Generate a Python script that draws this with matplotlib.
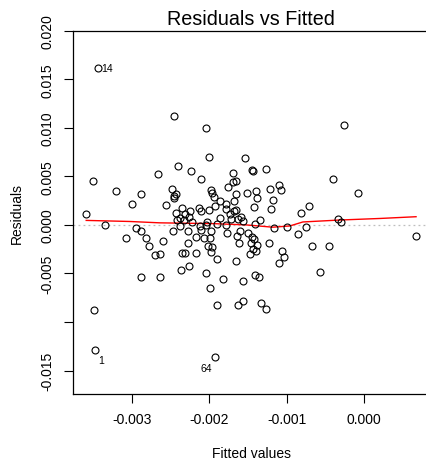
import matplotlib
matplotlib.use("Agg")
import matplotlib.pyplot as plt
import numpy as np

plt.rcParams['font.family'] = ['Liberation Sans', 'DejaVu Sans']

# fitted values and residuals, in units of 1e-3
fitted_e3 = [
    -3.447, -3.512, -3.594, -3.351, -3.217, -3.000, -2.883, -3.083, -3.499, -3.481,
    -2.957, -2.883, -2.818, -2.784, -2.603, -2.706, -2.645, -2.883, -2.636, -2.671,
    -2.568, -2.464, -2.403, -2.239, -2.109, -2.039, -2.009, -2.490, -2.429, -2.464,
    -2.455, -2.351, -2.429, -2.247, -2.317, -2.265, -2.386, -2.421, -2.334, -2.135,
    -2.113, -2.009, -1.931, -1.979, -1.961, -1.944, -2.031, -1.866, -1.862, -1.779,
    -1.788, -1.736, -1.684, -1.714, -1.684, -1.758, -1.694, -1.694, -2.473, -2.377,
    -2.273, -2.273, -2.169, -2.126, -2.104, -2.048, -1.974, -2.065, -1.996, -2.360,
    -2.312, -2.169, -2.022, -1.961, -1.974, -1.775, -1.905, -2.369, -2.269, -2.039,
    -1.823, -1.992, -1.905, -1.922, -1.542, -1.447, -1.440, -1.262, -1.652, -1.652,
    -1.512, -1.395, -1.377, -1.213, -1.096, -1.074, -1.174, -1.195, -1.425, -1.649,
    -0.710, -0.814, -0.403, -0.252, -0.070, -1.632, -1.584, -1.564, -1.343, -0.327,
    -0.295, -1.412, -1.161, -0.996, -0.745, 0.679, -1.606, -1.636, -1.499, -1.447,
    -1.421, -1.455, -1.382, -1.434, -1.390, -1.477, -1.610, -1.230, -0.847, -1.065,
    -1.029, -1.094, -0.665, -0.448, -0.565, -1.649, -1.412, -1.357, -1.561, -1.629,
    -1.561, -1.325, -1.262, -1.899, -2.230, -1.788]

resid_e3 = [
    16.19, 4.53, 1.10, 0.02, 3.44, 2.13, 3.19, -1.40, -8.81, -12.86,
    -0.34, -0.62, -1.40, -2.22, -1.68, -3.15, -3.01, -5.35, -5.35, 5.29,
    2.00, 11.21, 6.09, 5.56, 4.75, 10.02, 7.00, 3.74, 3.23, 3.00,
    2.72, 1.72, 1.20, 1.41, 1.10, 0.76, 0.66, 0.51, 0.51, 1.69,
    1.44, 1.51, 1.95, 3.57, 3.29, 2.82, 0.31, 0.66, 2.41, 2.13,
    1.62, 1.10, 1.44, 0.59, 2.47, 3.85, 4.42, 5.32, -0.62, -0.10,
    -0.62, -1.91, -1.30, -0.10, -0.55, 0.02, -0.68, -1.40, -1.40, -2.88,
    -2.88, -2.88, -2.19, -2.33, -2.78, -0.88, -3.50, -4.66, -4.28, -4.97,
    -5.59, -6.51, -8.23, -13.61, 6.86, 5.63, 5.55, 5.80, 4.53, 3.21,
    3.33, 3.44, 2.78, 3.72, 4.14, 3.57, 2.52, 1.59, 1.85, 1.51,
    1.98, 1.22, 4.77, 10.29, 3.33, 0.59, 0.76, 0.41, 0.48, 0.59,
    0.33, 0.04, -0.29, -0.24, -0.27, -1.19, -0.62, -1.19, -0.85, -1.30,
    -1.47, -1.91, -2.09, -2.50, -2.74, -3.01, -1.91, -1.91, -0.91, -2.74,
    -3.34, -3.92, -2.22, -2.22, -4.84, -3.70, -5.17, -5.35, -5.76, -8.26,
    -7.87, -8.08, -8.65, 0.07, 0.28, -0.03]

# smoother (red line), units of 1e-3
smooth_x_e3 = [-3.597, -3.035, -2.645, -1.957, -1.529, -1.178, -0.957, -0.788, -0.308, 0.212, 0.679]
smooth_y_e3 = [0.46, 0.35, 0.21, 0.13, 0.00, -0.24, -0.11, 0.30, 0.50, 0.66, 0.84]

# labelled observations: (label, index into the arrays)
id_labels = ["14", "1", "64"]
id_index = [0, 9, 83]

x_ticks = [-0.003, -0.002, -0.001, 0.000]
y_ticks = [0.020, 0.015, 0.010, 0.005, 0.000, -0.005, -0.010, -0.015]
y_ticklabels = ["0.020", "0.015", "0.010", "0.005", "0.000", "-0.005", "", "-0.015"]

fitted = np.array(fitted_e3) * 1e-3
resid = np.array(resid_e3) * 1e-3
sx = np.array(smooth_x_e3) * 1e-3
sy = np.array(smooth_y_e3) * 1e-3

fig = plt.figure(figsize=(4.26, 4.64), dpi=100)
ax = fig.add_axes([0.1714, 0.1487, 0.8362, 0.7830])

ax.axhline(0, color='#bebebe', linestyle=(0, (1.5, 2.5)), lw=0.9, zorder=1)
ax.plot(fitted, resid, 'o', mfc='none', mec='black', ms=5, mew=0.8, zorder=3)
ax.plot(sx, sy, color='red', lw=1, zorder=2)

# point ids
offsets = {"14": (3, 0, 'left'), "1": (3, -10, 'left'), "64": (-3, -11, 'right')}
for lab, i in zip(id_labels, id_index):
    dx, dy, ha = offsets[lab]
    ax.annotate(lab, (fitted[i], resid[i]), xytext=(dx, dy), textcoords='offset pixels',
                ha=ha, va='center', fontsize=7.5)

ax.set_xlim(-0.003768, 0.000850)
ax.set_ylim(-0.01742, 0.01996)

ax.set_xticks(x_ticks)
ax.set_xticklabels(["-0.003", "-0.002", "-0.001", "0.000"])
ax.set_yticks(y_ticks)
ax.set_yticklabels(y_ticklabels, rotation=90, va='center')

ax.tick_params(direction='out', length=6.2, width=0.8, labelsize=10, pad=7)
for s in ax.spines.values():
    s.set_linewidth(0.9)

ax.set_title("Residuals vs Fitted", fontsize=14.2, pad=4.5)
ax.set_xlabel("Fitted values", fontsize=10, labelpad=14)
ax.set_ylabel("Residuals", fontsize=10, labelpad=12)

fig.savefig("out.png", dpi=100)
